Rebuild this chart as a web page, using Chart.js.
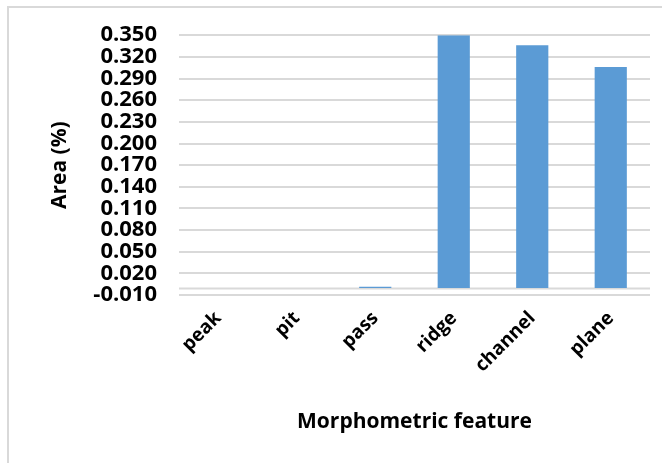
<!DOCTYPE html>
<html>
<head>
<meta charset="utf-8">
<script src="https://cdn.jsdelivr.net/npm/chart.js@4"></script>
<style>
  html, body { margin: 0; padding: 0; background: #fff; }
  #wrap { position: relative; width: 662px; height: 463px; overflow: hidden; }
  #frame { position: absolute; left: 7px; top: 6px; width: 700px; height: 500px;
           border-left: 2px solid #d9d9d9; border-top: 2px solid #d9d9d9; }
  canvas { position: absolute; left: 0; top: 0; }
</style>
</head>
<body>
<div id="wrap">
  <div id="frame"></div>
  <canvas id="chart" width="662" height="463"></canvas>
</div>
<script>
const categories = ['peak', 'pit', 'pass', 'ridge', 'channel', 'plane']
const areaValues = [0, 0, 0.0015, 0.350, 0.336, 0.306]
const yMin = -0.010
const yMax = 0.350
const yStep = 0.030

const FONT = "'Open Sans', sans-serif"

// 0 축선 (Excel 기본 축) — 눈금이 아닌 위치에 회색 선 추가
const zeroLine = {
  id: 'zeroLine',
  beforeDatasetsDraw(chart) {
    const { ctx, chartArea, scales } = chart
    const y = Math.round(scales.y.getPixelForValue(0)) + 0.5
    ctx.save()
    ctx.strokeStyle = '#d9d9d9'
    ctx.lineWidth = 2
    ctx.beginPath()
    ctx.moveTo(chartArea.left, y)
    ctx.lineTo(chartArea.right, y)
    ctx.stroke()
    ctx.restore()
  }
}

new Chart(document.getElementById('chart'), {
  type: 'bar',
  data: {
    labels: categories,
    datasets: [{
      data: areaValues,
      backgroundColor: '#5b9bd5',
      borderWidth: 0,
      barPercentage: 0.41,
      categoryPercentage: 1
    }]
  },
  options: {
    responsive: false,
    animation: false,
    devicePixelRatio: 1,
    layout: { padding: { left: 36, right: 12, top: 24, bottom: 28 } },
    plugins: { legend: { display: false }, tooltip: { enabled: false } },
    scales: {
      x: {
        grid: { display: false },
        border: { display: false },
        ticks: {
          color: '#000',
          font: { family: FONT, size: 19, weight: 'bold' },
          minRotation: 45,
          maxRotation: 45,
          padding: 4
        },
        title: {
          display: true,
          text: 'Morphometric feature',
          color: '#000',
          font: { family: FONT, size: 21, weight: 'bold' },
          padding: { top: 29, bottom: 0 }
        }
      },
      y: {
        min: yMin,
        max: yMax,
        afterFit: scale => { scale.width = 143 },
        grid: { color: '#d9d9d9', lineWidth: 2, drawTicks: false },
        border: { display: false },
        ticks: {
          stepSize: yStep,
          autoSkip: false,
          color: '#000',
          padding: 22,
          font: { family: FONT, size: 22, weight: 'bold' },
          callback: v => v.toFixed(3)
        },
        title: {
          display: true,
          text: 'Area (%)',
          color: '#000',
          font: { family: FONT, size: 21, weight: 'bold' },
          padding: { top: 11, bottom: 10 }
        }
      }
    }
  },
  plugins: [zeroLine]
})
</script>
</body>
</html>
